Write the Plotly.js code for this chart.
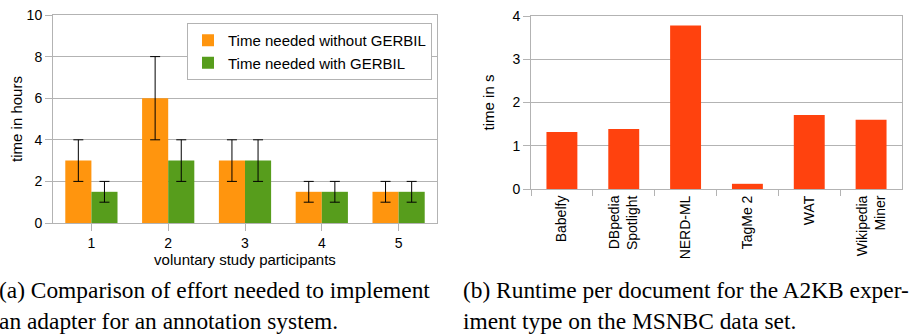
<!DOCTYPE html>
<html>
<head>
<meta charset="utf-8">
<script src="https://cdn.plot.ly/plotly-3.0.1.min.js"></script>
<style>html,body{margin:0;padding:0;background:#fff}#chart{width:920px;height:336px}</style>
</head>
<body>
<div id="chart"></div>
<script>
// Left chart (a)
const participants = ["1", "2", "3", "4", "5"];
const withoutGerbil = [3, 6, 3, 1.5, 1.5];
const withoutGerbilErr = [1, 2, 1, 0.5, 0.5];
const withGerbil = [1.5, 3, 3, 1.5, 1.5];
const withGerbilErr = [0.5, 1, 1, 0.5, 0.5];
const seriesNames = ["Time needed without GERBIL", "Time needed with GERBIL"];
const leftTicks = [0, 2, 4, 6, 8, 10];

// Right chart (b)
const systems = ["Babelfy", "DBpedia<br>Spotlight", "NERD-ML", "TagMe 2", "WAT", "Wikipedia<br>Miner"];
const runtimes = [1.32, 1.39, 3.78, 0.12, 1.71, 1.60];
const rightTicks = [0, 1, 2, 3, 4];

const captionA1 = "(a) Comparison of effort needed to implement";
const captionA2 = "an adapter for an annotation system.";
const captionB1 = "(b) Runtime per document for the A2KB exper-";
const captionB2 = "iment type on the MSNBC data set.";

const SANS = "Liberation Sans, Arial, sans-serif";
const SERIF = "Liberation Serif, Times New Roman, serif";
const GRID = "#b3b3b3";

const errStyle = {type: "data", visible: true, color: "#000", thickness: 1, width: 5};

const traces = [
  {type: "bar", name: seriesNames[0], x: participants, y: withoutGerbil,
   marker: {color: "#ff950e"}, xaxis: "x", yaxis: "y",
   error_y: Object.assign({array: withoutGerbilErr}, errStyle)},
  {type: "bar", name: seriesNames[1], x: participants, y: withGerbil,
   marker: {color: "#579d1c"}, xaxis: "x", yaxis: "y",
   error_y: Object.assign({array: withGerbilErr}, errStyle)},
  {type: "bar", name: "Runtime", x: systems, y: runtimes, width: 0.5,
   marker: {color: "#ff420e"}, xaxis: "x2", yaxis: "y2", showlegend: false}
];

const commonY = {
  showgrid: true, gridcolor: GRID, gridwidth: 1, zeroline: false,
  showline: true, linecolor: GRID, linewidth: 1, mirror: true,
  ticks: "outside", ticklen: 7, tickcolor: GRID,
  tickfont: {family: SANS, size: 14, color: "#000"}, automargin: false
};
const commonX = {
  showline: true, linecolor: GRID, linewidth: 1, mirror: true,
  ticks: "outside", ticklen: 7, tickcolor: GRID, tickson: "boundaries",
  showgrid: false, zeroline: false,
  tickfont: {family: SANS, size: 14, color: "#000"}, automargin: false
};

const layout = {
  width: 920, height: 336,
  margin: {l: 0, r: 0, t: 0, b: 0},
  paper_bgcolor: "#fff", plot_bgcolor: "#fff",
  barmode: "group", bargap: 0.32, bargroupgap: 0,
  showlegend: true,
  legend: {x: 187/920, y: 1 - 23/336, xanchor: "left", yanchor: "top",
    bordercolor: GRID, borderwidth: 1, bgcolor: "#fff",
    font: {family: SANS, size: 15, color: "#000"}, traceorder: "normal",
    tracegroupgap: 0, itemwidth: 30},
  xaxis: Object.assign({}, commonX, {domain: [53/920, 437/920], anchor: "y",
    title: {text: "voluntary study participants", font: {family: SANS, size: 15, color: "#000"}, standoff: 1}}),
  yaxis: Object.assign({}, commonY, {domain: [1 - 223/336, 1 - 15/336], anchor: "x",
    range: [0, 10], tickvals: leftTicks,
    title: {text: "time in hours", font: {family: SANS, size: 15, color: "#000"}, standoff: 0}}),
  xaxis2: Object.assign({}, commonX, {domain: [531/920, 902/920], anchor: "y2",
    tickangle: -90, ticklen: 6}),
  yaxis2: Object.assign({}, commonY, {domain: [1 - 189/336, 1 - 16/336], anchor: "x2",
    range: [0, 4], tickvals: rightTicks,
    title: {text: "time in s", font: {family: SANS, size: 15, color: "#000"}, standoff: 14}}),
  annotations: [
    {text: captionA1, x: -3/920, y: 1 - 290/336},
    {text: captionA2, x: -3/920, y: 1 - 321/336},
    {text: captionB1, x: 461/920, y: 1 - 290/336},
    {text: captionB2, x: 461/920, y: 1 - 321/336}
  ].map(a => Object.assign({xref: "paper", yref: "paper", xanchor: "left", yanchor: "middle",
    showarrow: false, font: {family: SERIF, size: 23.4, color: "#000"}}, a))
};

Plotly.newPlot("chart", traces, layout, {staticPlot: true, displayModeBar: false});
</script>
</body>
</html>
